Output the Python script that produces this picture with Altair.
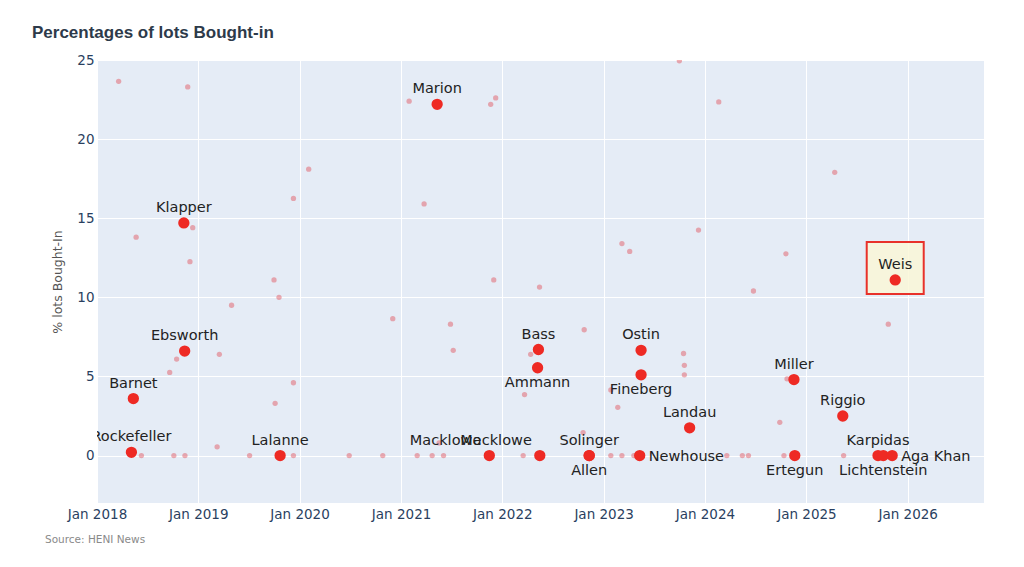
import altair as alt
import pandas as pd

title_text = "Percentages of lots Bought-in"
source_text = "Source: HENI News"
y_title = "% lots Bought-In"

# Named single-owner sales (highlighted)
sale_names = ["Rockefeller", "Barnet", "Ebsworth", "Klapper", "Lalanne", "Marion",
              "Macklowe", "Macklowe", "Bass", "Ammann", "Solinger", "Allen",
              "Ostin", "Fineberg", "Newhouse", "Landau", "Miller", "Ertegun",
              "Riggio", "Karpidas", "Lichtenstein", "Aga Khan", "Weis"]
sale_dates = ["2018-05-05", "2018-05-12", "2018-11-13", "2018-11-10", "2019-10-23", "2021-05-11",
              "2021-11-15", "2022-05-16", "2022-05-11", "2022-05-08", "2022-11-10", "2022-11-10",
              "2023-05-16", "2023-05-16", "2023-05-11", "2023-11-07", "2024-11-17", "2024-11-20",
              "2025-05-12", "2025-09-16", "2025-10-05", "2025-11-06", "2025-11-17"]
sale_pct = [0.2, 3.6, 6.6, 14.7, 0.0, 22.2,
            0.0, 0.0, 6.7, 5.55, 0.0, 0.0,
            6.65, 5.1, 0.0, 1.75, 4.8, 0.0,
            2.5, 0.0, 0.0, 0.0, 11.1]

# Label placement groups
labels_top = ["Rockefeller", "Barnet", "Ebsworth", "Klapper", "Lalanne", "Marion", "Bass",
              "Solinger", "Ostin", "Landau", "Miller", "Riggio", "Karpidas", "Weis"]
labels_bottom = ["Ammann", "Allen", "Fineberg", "Ertegun", "Lichtenstein"]
labels_right = ["Newhouse", "Aga Khan"]
labels_topleft = ["Macklowe"]
highlighted = ["Weis"]

# Other sales (background)
other_dates = ["2018-03-20", "2018-11-24", "2020-02-03", "2019-12-10", "2018-12-12", "2018-05-22",
               "2018-12-02", "2019-10-01", "2019-10-19", "2019-05-01", "2019-03-18", "2018-10-15",
               "2018-09-20", "2019-12-10", "2019-10-05", "2019-03-10",
               "2018-06-10", "2018-10-05", "2018-11-14", "2019-07-05", "2019-12-10", "2020-06-28",
               "2020-10-27",
               "2021-01-30", "2021-12-08", "2021-11-20", "2021-03-25", "2023-03-08", "2023-04-05",
               "2021-12-01", "2023-10-01", "2022-05-15", "2020-12-02", "2021-06-28", "2022-10-23",
               "2021-07-08", "2022-04-13", "2023-01-27", "2022-03-22", "2023-02-21", "2022-10-19",
               "2021-05-18",
               "2021-02-28", "2021-04-23", "2021-06-03", "2022-03-17", "2023-01-27", "2023-03-08",
               "2023-04-20",
               "2024-02-20", "2025-04-13", "2023-12-09", "2024-10-19", "2024-06-24", "2025-10-23",
               "2023-10-16", "2023-10-19", "2023-10-19", "2024-10-23", "2024-09-27",
               "2024-03-20", "2024-05-15", "2024-06-06", "2024-10-12", "2025-05-15"]
other_pct = [23.65, 23.3, 18.1, 16.25, 14.4, 13.8,
             12.25, 11.1, 10.0, 9.5, 6.4, 6.1,
             5.25, 4.6, 3.3, 0.55,
             0, 0, 0, 0, 0, 0,
             0,
             22.4, 22.6, 22.2, 15.9, 13.4, 12.9,
             11.1, 24.95, 10.65, 8.65, 8.3, 7.95,
             6.65, 6.4, 4.15, 3.85, 3.05, 1.45,
             0.8,
             0, 0, 0, 0, 0, 0,
             0,
             22.35, 17.9, 14.25, 12.75, 10.4, 8.3,
             6.45, 5.7, 5.1, 4.85, 2.1,
             0, 0, 0, 0, 0]

sales = pd.DataFrame({"name": sale_names, "date": sale_dates, "pct": sale_pct})
others = pd.DataFrame({"date": other_dates, "pct": other_pct})

W, H = 887, 443
FONT = "DejaVu Sans"
TICK_COLOR = "#2a3f5f"

x_enc = alt.X(
    "date:T",
    scale=alt.Scale(domain=[alt.DateTime(year=2018, month=1, date=1),
                            alt.DateTime(year=2026, month=10, date=3)]),
    axis=alt.Axis(
        values=[alt.DateTime(year=y, month=1, date=1) for y in range(2018, 2027)],
        format="%b %Y", title=None, domain=False, ticks=False,
        labelFont=FONT, labelFontSize=13.5, labelColor=TICK_COLOR, labelPadding=4,
        grid=True, gridColor="white", gridWidth=1, labelFlush=False,
    ),
)
y_enc = alt.Y(
    "pct:Q",
    scale=alt.Scale(domain=[-3, 25], nice=False, zero=False),
    axis=alt.Axis(
        values=[0, 5, 10, 15, 20, 25], title=y_title, domain=False, ticks=False,
        labelFont=FONT, labelFontSize=13.5, labelColor=TICK_COLOR, labelPadding=3,
        grid=True, gridColor="white", gridWidth=1,
        titleFont=FONT, titleFontSize=12.5, titleFontWeight="normal", titleColor="#555555",
        titleX=-40, titleY=H / 2, titleAngle=270, titleAlign="center", titleBaseline="middle",
    ),
)

base_sales = alt.Chart(sales).encode(x=x_enc, y=y_enc)

box = base_sales.transform_filter(
    alt.FieldOneOfPredicate(field="name", oneOf=highlighted)
).mark_point(
    shape="M-1,-0.912L1,-0.912L1,0.912L-1,0.912Z", size=3249, filled=True,
    fill="#FAF6D6", fillOpacity=0.82, stroke="#E8312A", strokeWidth=2,
    strokeOpacity=1, opacity=1, yOffset=-12,
)

bg = alt.Chart(others).mark_circle(size=28, color="#E0404A", opacity=0.42, clip=True).encode(x=x_enc, y=y_enc)

big = base_sales.mark_circle(size=128, color="#EE2A24", opacity=1)

def labels(names, **kw):
    return base_sales.transform_filter(
        alt.FieldOneOfPredicate(field="name", oneOf=names)
    ).mark_text(font=FONT, fontSize=14.5, color="#222222", clip=True, **kw).encode(text="name:N")

lab_top = labels(labels_top, align="center", baseline="alphabetic", dy=-11)
lab_bottom = labels(labels_bottom, align="center", baseline="alphabetic", dy=19)
lab_right = labels(labels_right, align="left", baseline="alphabetic", dx=9, dy=5)
lab_topleft = labels(labels_topleft, align="right", baseline="alphabetic", dx=-8, dy=-11)

notes = pd.DataFrame({"t": [title_text, source_text]})
title = alt.Chart(notes).transform_filter(alt.datum.t == title_text).mark_text(
    font="Liberation Sans", fontSize=17, fontWeight="bold", color="#2d3a4a",
    align="left", baseline="alphabetic"
).encode(x=alt.value(-65), y=alt.value(-22.3), text="t:N")

source = alt.Chart(notes).transform_filter(alt.datum.t == source_text).mark_text(
    font=FONT, fontSize=10.5, color="#8a8a8a", align="left", baseline="middle"
).encode(x=alt.value(-52), y=alt.value(H + 37), text="t:N")

chart = alt.layer(
    box, bg, big, lab_top, lab_bottom, lab_right, lab_topleft, title, source
).properties(
    width=W, height=H,
    autosize=alt.AutoSizeParams(type="none"),
    padding={"left": 89, "top": 52, "right": 30, "bottom": 52},
    background="white",
).configure_view(fill="#E5ECF6", strokeWidth=0)

chart.save("out.html", embed_options={"renderer": "svg", "actions": False})
